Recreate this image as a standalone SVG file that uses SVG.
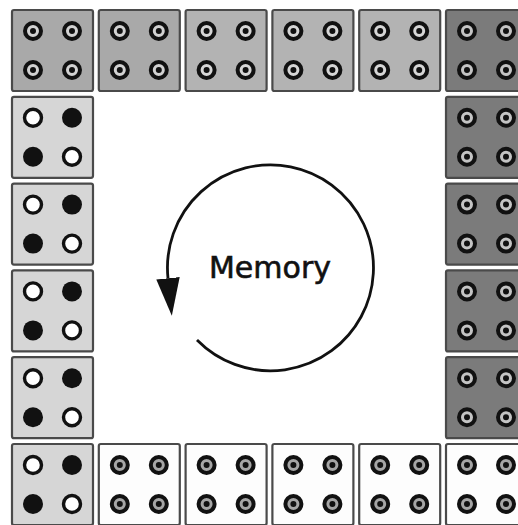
<svg xmlns="http://www.w3.org/2000/svg" xmlns:xlink="http://www.w3.org/1999/xlink" width="518" height="525" viewBox="0 0 518 525">
<style>
.cell{stroke:#4a4a4a;stroke-width:2.2}
.g1{fill:#a9a9a9}
.g2{fill:#b3b3b3}
.dk{fill:#7b7b7b}
.lt{fill:#d6d6d6}
.wh{fill:#fdfdfd}
.ring{stroke:#111;stroke-width:4}
.dot{fill:#111}
.open{fill:#fff;stroke:#111;stroke-width:3.4}
.full{fill:#111}
.loop{fill:none;stroke:#111;stroke-width:2.8}
.label{font-family:"DejaVu Sans","Liberation Sans",sans-serif;font-size:30px;fill:#111;stroke:#111;stroke-width:0.6}
</style>
<defs>
<g id="rings">
<circle class="ring" cx="21" cy="21" r="8"/><circle class="dot" cx="21" cy="21" r="3"/>
<circle class="ring" cx="60" cy="21" r="8"/><circle class="dot" cx="60" cy="21" r="3"/>
<circle class="ring" cx="21" cy="60" r="8"/><circle class="dot" cx="21" cy="60" r="3"/>
<circle class="ring" cx="60" cy="60" r="8"/><circle class="dot" cx="60" cy="60" r="3"/>
</g>
<g id="bits">
<circle class="open" cx="21" cy="21" r="8.5"/>
<circle class="full" cx="60" cy="21" r="10"/>
<circle class="full" cx="21" cy="60" r="10"/>
<circle class="open" cx="60" cy="60" r="8.5"/>
</g>
<marker id="arr" markerUnits="userSpaceOnUse" markerWidth="40" markerHeight="30" viewBox="0 -12 34 24" refX="0" refY="0" orient="auto">
<path d="M0,-10 L32,0 L0,10 z" fill="#111"/>
</marker>
</defs>
<g id="n-r0c0" transform="translate(12,10)"><rect class="cell g1" width="81" height="81" rx="2"/><use href="#rings" fill="#d2d2d2"/></g>
<g id="n-r0c1" transform="translate(98.8,10)"><rect class="cell g1" width="81" height="81" rx="2"/><use href="#rings" fill="#d2d2d2"/></g>
<g id="n-r0c2" transform="translate(185.6,10)"><rect class="cell g2" width="81" height="81" rx="2"/><use href="#rings" fill="#d6d6d6"/></g>
<g id="n-r0c3" transform="translate(272.4,10)"><rect class="cell g2" width="81" height="81" rx="2"/><use href="#rings" fill="#d6d6d6"/></g>
<g id="n-r0c4" transform="translate(359.2,10)"><rect class="cell g2" width="81" height="81" rx="2"/><use href="#rings" fill="#d6d6d6"/></g>
<g id="n-r0c5" transform="translate(446,10)"><rect class="cell dk" width="81" height="81" rx="2"/><use href="#rings" fill="#c4c4c4"/></g>
<g id="n-r1c5" transform="translate(446,96.8)"><rect class="cell dk" width="81" height="81" rx="2"/><use href="#rings" fill="#c4c4c4"/></g>
<g id="n-r2c5" transform="translate(446,183.6)"><rect class="cell dk" width="81" height="81" rx="2"/><use href="#rings" fill="#c4c4c4"/></g>
<g id="n-r3c5" transform="translate(446,270.4)"><rect class="cell dk" width="81" height="81" rx="2"/><use href="#rings" fill="#c4c4c4"/></g>
<g id="n-r4c5" transform="translate(446,357.2)"><rect class="cell dk" width="81" height="81" rx="2"/><use href="#rings" fill="#c4c4c4"/></g>
<g id="n-r1c0" transform="translate(12,96.8)"><rect class="cell lt" width="81" height="81" rx="2"/><use href="#bits"/></g>
<g id="n-r2c0" transform="translate(12,183.6)"><rect class="cell lt" width="81" height="81" rx="2"/><use href="#bits"/></g>
<g id="n-r3c0" transform="translate(12,270.4)"><rect class="cell lt" width="81" height="81" rx="2"/><use href="#bits"/></g>
<g id="n-r4c0" transform="translate(12,357.2)"><rect class="cell lt" width="81" height="81" rx="2"/><use href="#bits"/></g>
<g id="n-r5c0" transform="translate(12,444)"><rect class="cell lt" width="81" height="81" rx="2"/><use href="#bits"/></g>
<g id="n-r5c1" transform="translate(98.8,444)"><rect class="cell wh" width="81" height="81" rx="2"/><use href="#rings" fill="#a6a6a6"/></g>
<g id="n-r5c2" transform="translate(185.6,444)"><rect class="cell wh" width="81" height="81" rx="2"/><use href="#rings" fill="#a6a6a6"/></g>
<g id="n-r5c3" transform="translate(272.4,444)"><rect class="cell wh" width="81" height="81" rx="2"/><use href="#rings" fill="#a6a6a6"/></g>
<g id="n-r5c4" transform="translate(359.2,444)"><rect class="cell wh" width="81" height="81" rx="2"/><use href="#rings" fill="#a6a6a6"/></g>
<g id="n-r5c5" transform="translate(446,444)"><rect class="cell wh" width="81" height="81" rx="2"/><use href="#rings" fill="#a6a6a6"/></g>
<g id="n-memory"><text class="label" x="270" y="278" text-anchor="middle">Memory</text></g>
<g id="connectors">
<path class="loop" d="M197,340 A103,103 0 1 0 168,278.3" marker-end="url(#arr)"/>
</g>
</svg>
